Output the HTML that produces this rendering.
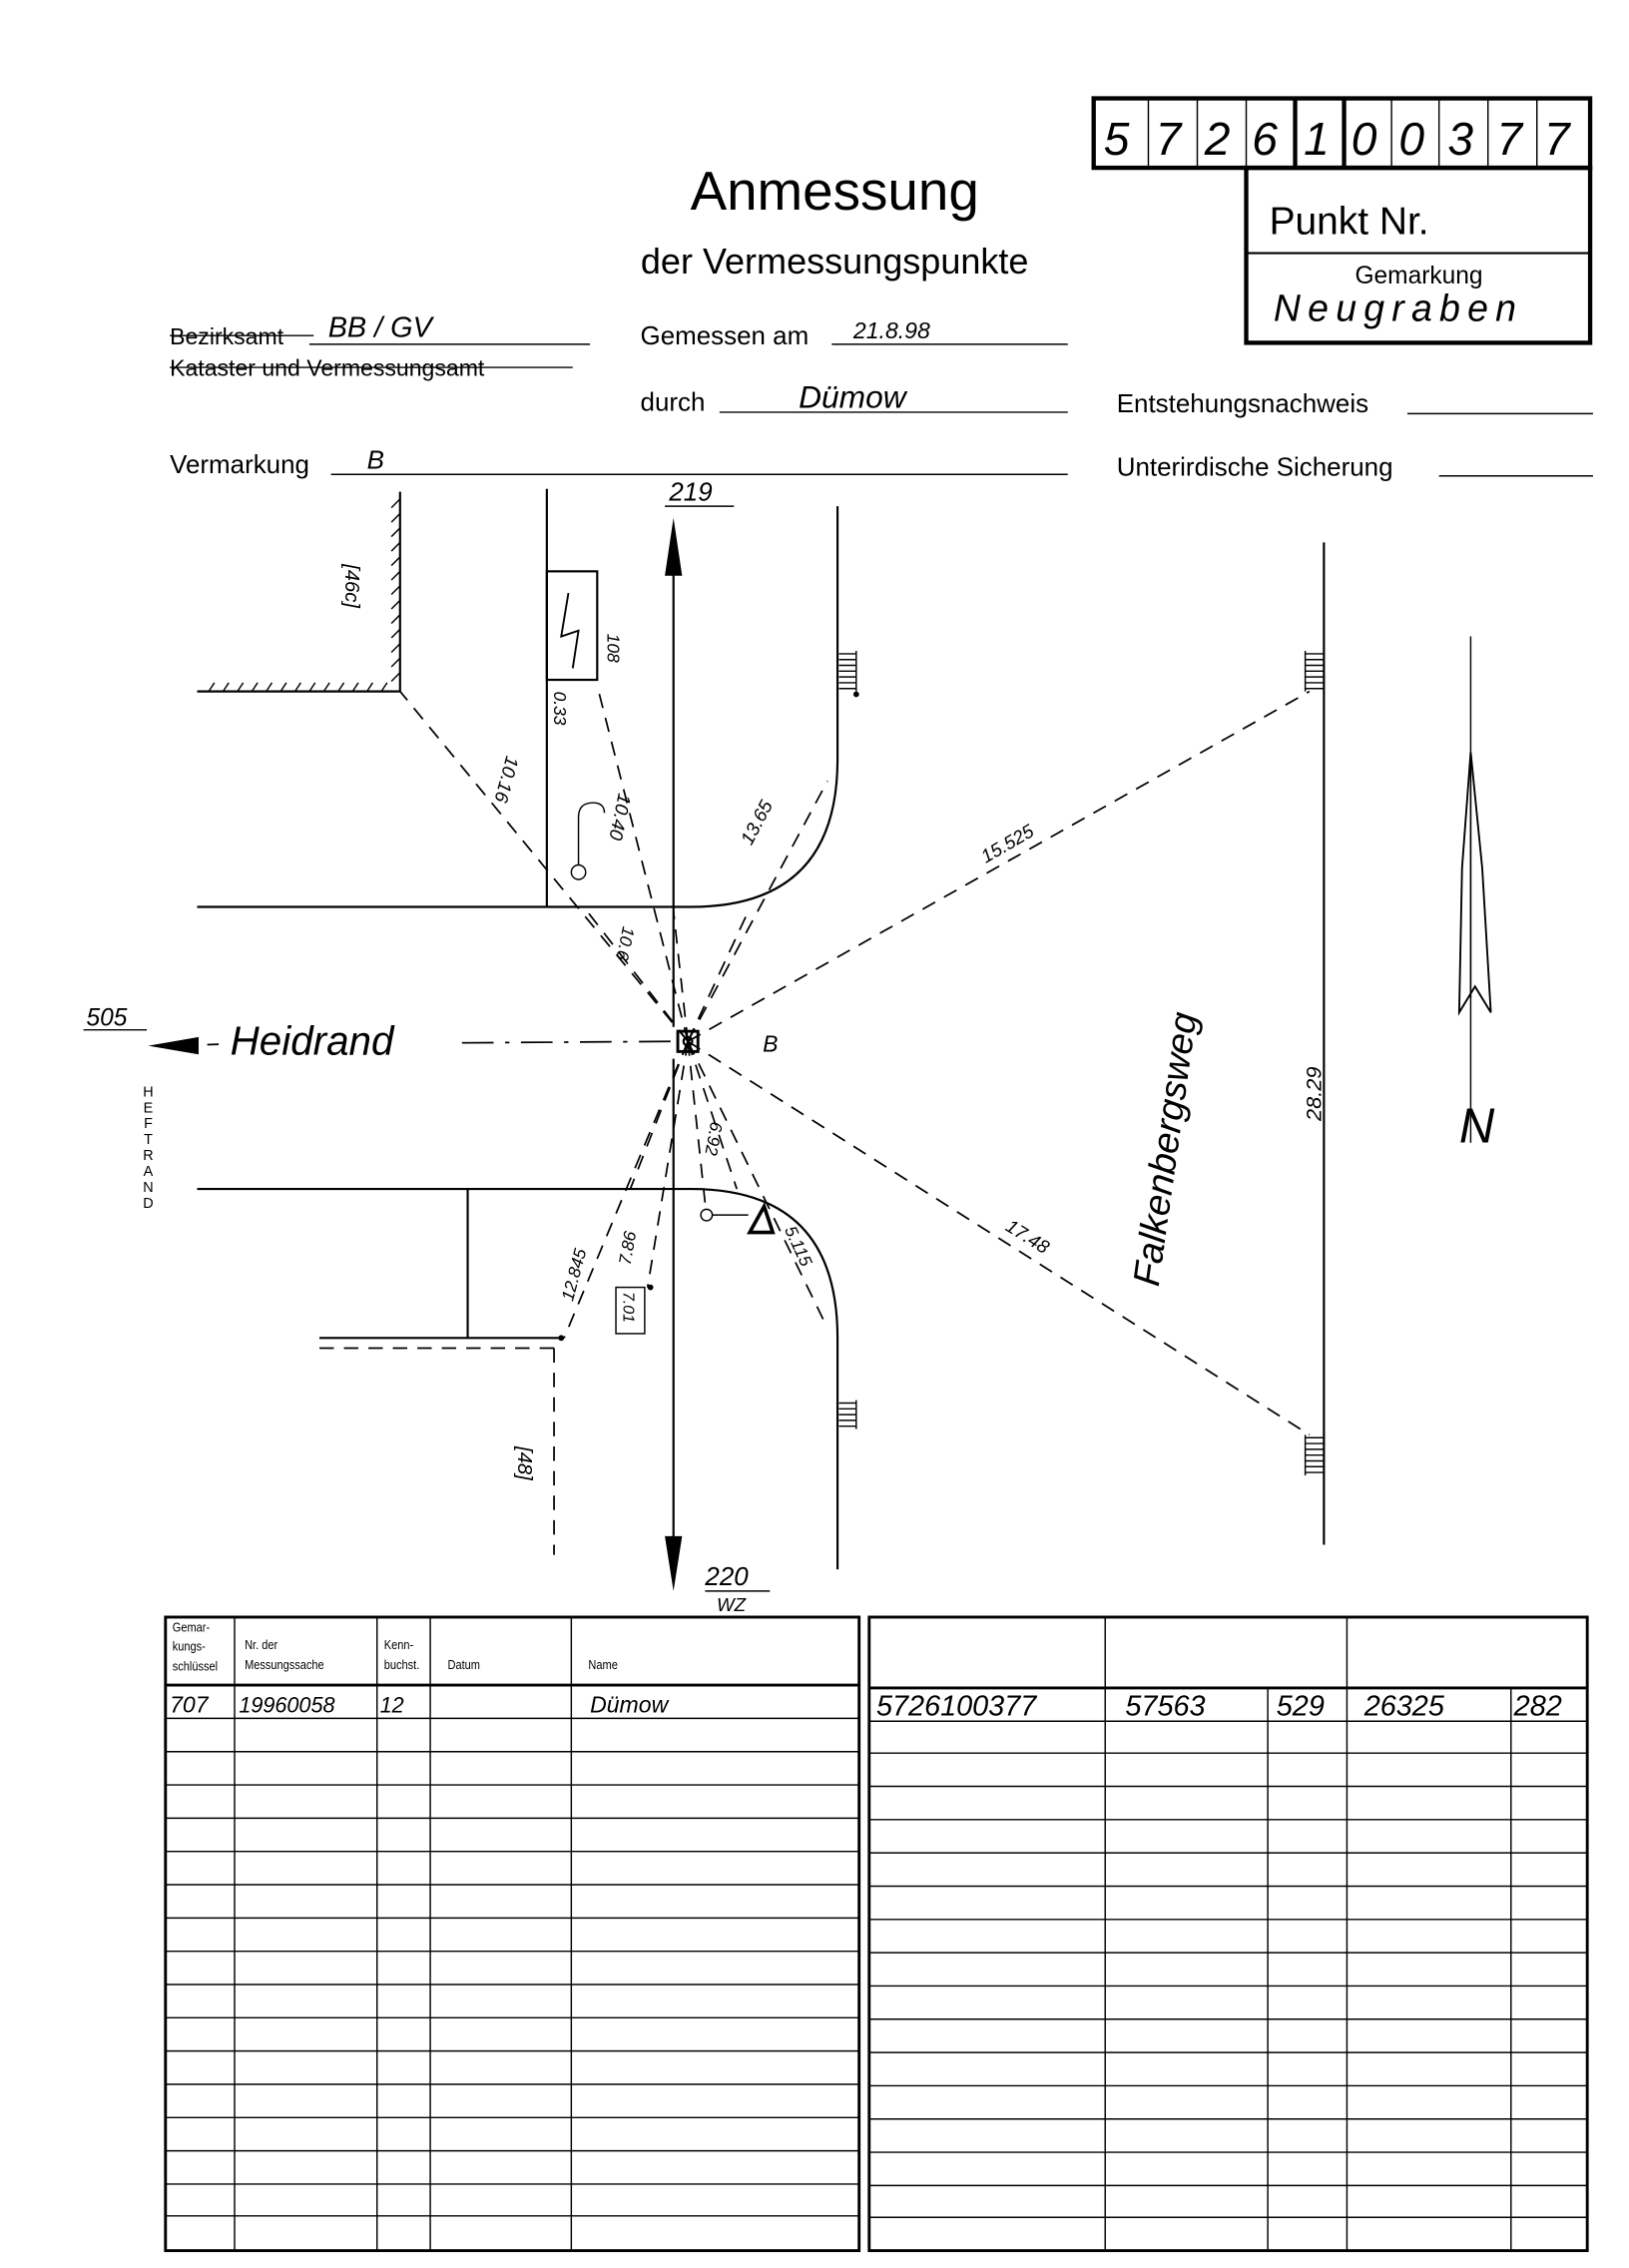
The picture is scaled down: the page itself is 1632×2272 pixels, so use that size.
<!DOCTYPE html>
<html><head><meta charset="utf-8"><style>
html,body{margin:0;padding:0;background:#fff}
svg{display:block}
text{font-family:"Liberation Sans",sans-serif;fill:#000}
</style></head><body>
<svg width="1632" height="2272" viewBox="0 0 1132 1568" preserveAspectRatio="none" xmlns="http://www.w3.org/2000/svg">
<rect width="1132" height="1568" fill="#fff"/>
<g stroke="#000" fill="none">
<rect x="760" y="68" width="345" height="48" stroke-width="3"/>
<g stroke-width="1"><line x1="798" y1="68" x2="798" y2="116"/><line x1="832" y1="68" x2="832" y2="116"/><line x1="866" y1="68" x2="866" y2="116"/><line x1="967" y1="68" x2="967" y2="116"/><line x1="1000" y1="68" x2="1000" y2="116"/><line x1="1034" y1="68" x2="1034" y2="116"/><line x1="1068" y1="68" x2="1068" y2="116"/></g>
<line x1="900" y1="68" x2="900" y2="116" stroke-width="3"/><line x1="934" y1="68" x2="934" y2="116" stroke-width="3"/>
<rect x="866" y="116" width="239" height="121" stroke-width="3"/>
<line x1="866" y1="175" x2="1105" y2="175" stroke-width="1.5"/>
<g stroke-width="1">
<line x1="215" y1="238" x2="410" y2="238"/>
<line x1="578" y1="238" x2="742" y2="238"/>
<line x1="500" y1="285" x2="742" y2="285"/>
<line x1="230" y1="328" x2="742" y2="328"/>
<line x1="978" y1="286" x2="1107" y2="286"/>
<line x1="1000" y1="329" x2="1107" y2="329"/>
<line x1="118" y1="232" x2="218" y2="232"/>
<line x1="118" y1="254" x2="398" y2="254"/>
</g>
<g stroke-width="1.5">
<line x1="278" y1="340" x2="278" y2="478"/>
<line x1="137" y1="478" x2="278" y2="478"/>
<line x1="380" y1="338" x2="380" y2="627"/>
<line x1="137" y1="627" x2="480" y2="627"/>
<path d="M582 350 L582 525 Q582 627 480 627"/>
<line x1="137" y1="822" x2="480" y2="822"/>
<path d="M480 822 Q582 822 582 925 L582 1085"/>
<line x1="325" y1="822" x2="325" y2="925"/>
<line x1="222" y1="925" x2="392" y2="925"/>
<line x1="920" y1="375" x2="920" y2="1068"/>
<rect x="380" y="395" width="35" height="75"/>
<line x1="468" y1="710" x2="468" y2="380"/>
<line x1="468" y1="732" x2="468" y2="1075"/>
<line x1="1022" y1="440" x2="1022" y2="790" stroke-width="1"/>
</g>
<path d="M395 410 L390 440 L402 436 L398 462" stroke-width="1.3"/>
<g stroke-width="1">
<path d="M278 345 l-6 6 M278 355 l-6 6 M278 365 l-6 6 M278 375 l-6 6 M278 385 l-6 6 M278 395 l-6 6 M278 405 l-6 6 M278 415 l-6 6 M278 425 l-6 6 M278 435 l-6 6 M278 445 l-6 6 M278 455 l-6 6 M278 465 l-6 6"/>
<path d="M145 478 l4 -6 M155 478 l4 -6 M165 478 l4 -6 M175 478 l4 -6 M185 478 l4 -6 M195 478 l4 -6 M205 478 l4 -6 M215 478 l4 -6 M225 478 l4 -6 M235 478 l4 -6 M245 478 l4 -6 M255 478 l4 -6 M265 478 l4 -6"/>
<path d="M583 452 h12 M583 456 h12 M583 460 h12 M583 464 h12 M583 468 h12 M583 472 h12 M583 476 h12 M595 450 v28"/>
<path d="M583 970 h12 M583 974 h12 M583 978 h12 M583 982 h12 M583 986 h12 M595 968 v20"/>
<path d="M907 452 h13 M907 456 h13 M907 460 h13 M907 464 h13 M907 468 h13 M907 472 h13 M907 476 h13 M907 450 v28"/>
<path d="M907 994 h13 M907 998 h13 M907 1002 h13 M907 1006 h13 M907 1010 h13 M907 1014 h13 M907 1018 h13 M907 992 v28"/>
</g>
<g stroke-width="1.2" stroke-dasharray="10 7">
<line x1="478" y1="720" x2="278" y2="478"/>
<line x1="478" y1="720" x2="416" y2="478"/>
<line x1="478" y1="720" x2="468" y2="630"/>
<line x1="478" y1="720" x2="408" y2="630"/>
<line x1="478" y1="720" x2="520" y2="630"/>
<line x1="478" y1="720" x2="575" y2="540"/>
<line x1="478" y1="720" x2="910" y2="478"/>
<line x1="478" y1="720" x2="910" y2="992"/>
<line x1="478" y1="720" x2="572" y2="912"/>
<line x1="478" y1="720" x2="392" y2="925"/>
<line x1="478" y1="720" x2="450" y2="890"/>
<line x1="478" y1="720" x2="490" y2="832"/>
<line x1="478" y1="720" x2="438" y2="822"/>
<line x1="478" y1="720" x2="512" y2="822"/>
<line x1="222" y1="932" x2="385" y2="932"/>
<line x1="385" y1="932" x2="385" y2="1075"/>
</g>
<line x1="466" y1="720" x2="318" y2="721" stroke-width="1.2" stroke-dasharray="22 8 3 8"/>
<line x1="152" y1="722" x2="120" y2="723" stroke-width="1.2" stroke-dasharray="8 6"/>
<rect x="471" y="713" width="14" height="14" stroke-width="2"/>
<circle cx="478" cy="720" r="3" stroke-width="1.5"/>
<circle cx="402" cy="603" r="5"/>
<path d="M402 598 L402 565 Q402 555 412 555 Q420 555 420 562"/>
<circle cx="491" cy="840" r="4"/>
<path d="M495 840 H520"/>
<path d="M521 852 L531 834 L537 852 Z" stroke-width="2.5"/>
<rect x="428" y="890" width="20" height="32"/>
<line x1="462" y1="350" x2="510" y2="350"/>
<line x1="58" y1="712" x2="102" y2="712"/>
<line x1="490" y1="1100" x2="535" y2="1100"/>
<path d="M1022 520 L1030 600 L1036 700 L1025 682 L1014 700 L1016 600 Z" stroke-width="1.3"/>
<path d="M1022 520 L1022 690" stroke-width="1"/>
</g>
<g fill="#000">
<path d="M468 358 L462 398 L474 398 Z"/>
<path d="M468 1100 L462 1062 L474 1062 Z"/>
<path d="M103 723 L138 717 L138 729 Z"/>
<circle cx="390" cy="925" r="2"/><circle cx="452" cy="890" r="2"/><circle cx="595" cy="480" r="2"/>
</g>
<g stroke="#000" fill="none">
<rect x="115" y="1118" width="482" height="438" stroke-width="2"/>
<rect x="604" y="1118" width="499" height="438" stroke-width="2"/>
<g stroke-width="1">
<line x1="163" y1="1118" x2="163" y2="1556"/><line x1="262" y1="1118" x2="262" y2="1556"/><line x1="299" y1="1118" x2="299" y2="1556"/><line x1="397" y1="1118" x2="397" y2="1556"/>
<line x1="768" y1="1118" x2="768" y2="1556"/><line x1="936" y1="1118" x2="936" y2="1556"/>
<line x1="881" y1="1167" x2="881" y2="1556"/><line x1="1050" y1="1167" x2="1050" y2="1556"/>
</g>
<line x1="115" y1="1165" x2="597" y2="1165" stroke-width="2"/>
<line x1="604" y1="1167" x2="1103" y2="1167" stroke-width="2"/>
<g stroke-width="1">
<path d="M115 1188H597M115 1211H597M115 1234H597M115 1257H597M115 1280H597M115 1303H597M115 1326H597M115 1349H597M115 1372H597M115 1395H597M115 1418H597M115 1441H597M115 1464H597M115 1487H597M115 1510H597M115 1532H597"/>
<path d="M604 1190H1103M604 1212H1103M604 1235H1103M604 1258H1103M604 1281H1103M604 1304H1103M604 1327H1103M604 1350H1103M604 1373H1103M604 1396H1103M604 1419H1103M604 1442H1103M604 1465H1103M604 1488H1103M604 1511H1103M604 1533H1103"/>
</g>
</g>
<g font-family="Liberation Sans">
<text x="580" y="145" font-size="38" text-anchor="middle">Anmessung</text>
<text x="580" y="189" font-size="25" text-anchor="middle">der Vermessungspunkte</text>
<text x="882" y="162" font-size="27">Punkt Nr.</text>
<text x="986" y="196" font-size="17" text-anchor="middle">Gemarkung</text>
<text x="118" y="238" font-size="16">Bezirksamt</text>
<text x="118" y="260" font-size="16">Kataster und Vermessungsamt</text>
<text x="445" y="238" font-size="18">Gemessen am</text>
<text x="445" y="284" font-size="18">durch</text>
<text x="118" y="327" font-size="18">Vermarkung</text>
<text x="776" y="285" font-size="18">Entstehungsnachweis</text>
<text x="776" y="329" font-size="18">Unterirdische Sicherung</text>
<g font-size="10" text-anchor="middle"><text x="103" y="758">H</text><text x="103" y="769">E</text><text x="103" y="780">F</text><text x="103" y="791">T</text><text x="103" y="802">R</text><text x="103" y="813">A</text><text x="103" y="824">N</text><text x="103" y="835">D</text></g>
<g font-size="9" transform="scale(0.85 1)">
<text x="141" y="1128">Gemar-</text><text x="141" y="1141">kungs-</text><text x="141" y="1155">schlüssel</text>
<text x="200" y="1140">Nr. der</text><text x="200" y="1154">Messungssache</text>
<text x="314" y="1140">Kenn-</text><text x="314" y="1154">buchst.</text>
<text x="366" y="1154">Datum</text>
<text x="481" y="1154">Name</text>
</g>
</g>
<g font-style="italic">
<g font-size="32"><text x="767" y="107">5</text><text x="803" y="107">7</text><text x="837" y="107">2</text><text x="870" y="107">6</text><text x="906" y="107">1</text><text x="939" y="107">0</text><text x="972" y="107">0</text><text x="1006" y="107">3</text><text x="1040" y="107">7</text><text x="1073" y="107">7</text></g>
<text x="885" y="222" font-size="26" letter-spacing="5">Neugraben</text>
<text x="228" y="233" font-size="20">BB / GV</text>
<text x="593" y="234" font-size="16">21.8.98</text>
<text x="555" y="282" font-size="22">Dümow</text>
<text x="255" y="324" font-size="18">B</text>
<text x="530" y="727" font-size="16">B</text>
<text x="465" y="346" font-size="18">219</text>
<text x="60" y="709" font-size="17">505</text>
<text x="490" y="1096" font-size="18">220</text>
<text x="498" y="1114" font-size="13">WZ</text>
<text x="160" y="729" font-size="28">Heidrand</text>
<text font-size="26" transform="translate(805 890) rotate(-82)">Falkenbergsweg</text>
<text font-size="15" transform="translate(918 775) rotate(-90)">28.29</text>
<text font-size="14" transform="translate(240 390) rotate(90)">[46c]</text>
<text font-size="14" transform="translate(360 1000) rotate(90)">[48]</text>
<text font-size="12" transform="translate(422 438) rotate(90)">108</text>
<text font-size="12" transform="translate(385 478) rotate(90)">0.33</text>
<text font-size="13" transform="translate(352 522) rotate(105)">10.16</text>
<text font-size="13" transform="translate(430 548) rotate(102)">10.40</text>
<text font-size="13" transform="translate(522 585) rotate(-62)">13.65</text>
<text font-size="13" transform="translate(685 597) rotate(-30)">15.525</text>
<text font-size="12" transform="translate(433 640) rotate(102)">10.6</text>
<text font-size="13" transform="translate(698 850) rotate(32)">17.48</text>
<text font-size="12" transform="translate(494 775) rotate(100)">6.92</text>
<text font-size="12" transform="translate(398 900) rotate(-75)">12.845</text>
<text font-size="12" transform="translate(438 875) rotate(-80)">7.86</text>
<text font-size="12" transform="translate(545 850) rotate(65)">5.115</text>
<text font-size="11" transform="translate(433 893) rotate(90)">7.01</text>
<text x="1014" y="790" font-size="34">N</text>
<text x="118" y="1184" font-size="16">707</text>
<text x="166" y="1184" font-size="15">19960058</text>
<text x="264" y="1184" font-size="15">12</text>
<text x="410" y="1184" font-size="16">Dümow</text>
<text x="609" y="1186" font-size="20">5726100377</text>
<text x="782" y="1186" font-size="20">57563</text>
<text x="887" y="1186" font-size="20">529</text>
<text x="948" y="1186" font-size="20">26325</text>
<text x="1052" y="1186" font-size="20">282</text>
</g>
</svg>
</body></html>
